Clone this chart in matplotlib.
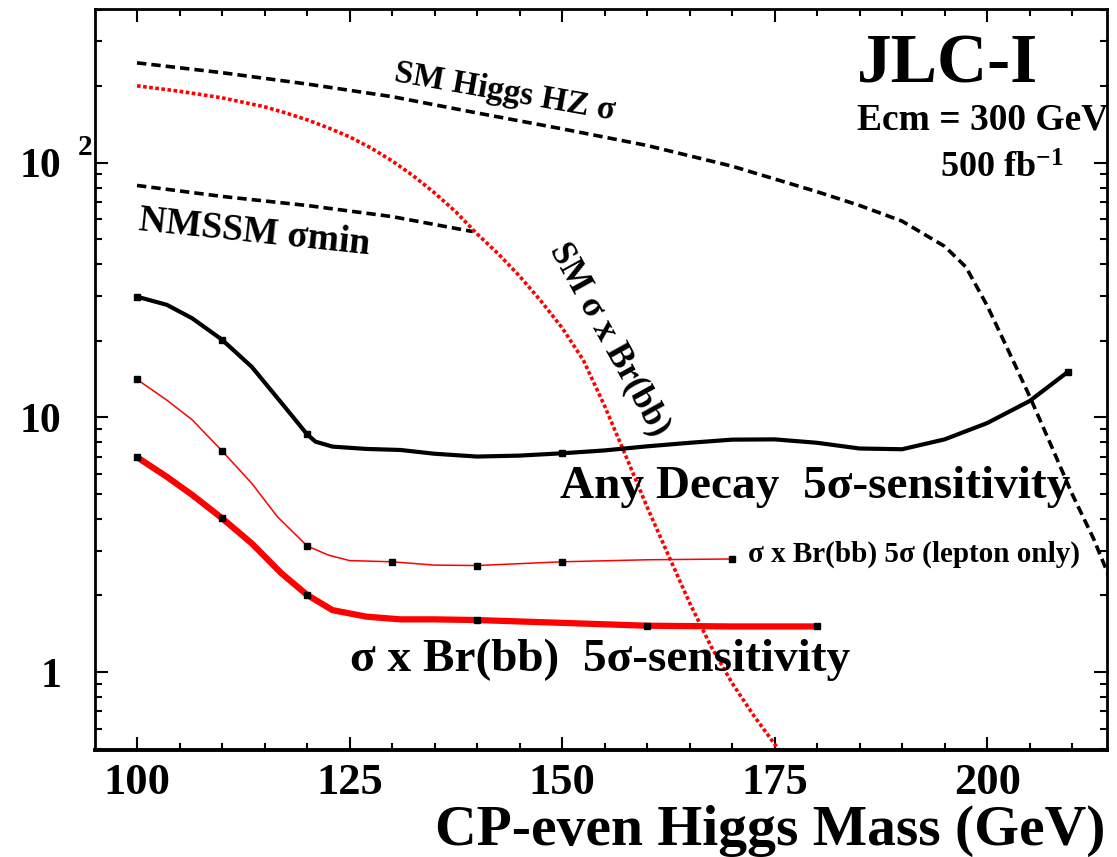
import matplotlib
matplotlib.use("Agg")
import matplotlib.pyplot as plt
from matplotlib.ticker import LogLocator, NullFormatter, FixedLocator, MultipleLocator
import matplotlib.transforms as mtransforms

plt.rcParams['font.family'] = ['Liberation Serif', 'DejaVu Serif']
plt.rcParams['font.weight'] = 'bold'
plt.rcParams['mathtext.fontset'] = 'custom'
plt.rcParams['mathtext.rm'] = 'Liberation Serif:bold'
plt.rcParams['mathtext.bf'] = 'Liberation Serif:bold'
plt.rcParams['mathtext.it'] = 'Liberation Serif:bold:italic'
plt.rcParams['mathtext.default'] = 'rm'

# ---- data ----
hz_mass = [100, 110, 120, 130, 140, 150, 160, 170, 180, 185, 190, 195, 197.5,
           200, 202.5, 205, 207.5, 210, 212.5, 215]
hz_xsec = [247, 226, 204, 182, 157, 136, 117, 97, 77, 68, 59, 47, 39,
           27.5, 18.3, 12.1, 7.8, 5.0, 3.35, 2.1]

nmssm_mass = [100, 110, 120, 130, 139.5]
nmssm_xsec = [81.5, 73.8, 68, 61.5, 53.7]

smbb_mass = [100, 105, 110, 115, 117.5, 120, 122.5, 125, 127.5, 130, 132.5, 135,
             137.5, 140, 142.5, 145, 147.5, 150, 152.5, 155, 157.5, 160, 162.5,
             165, 167.5, 170, 172.5, 175, 177.5]
smbb_xsec = [200.7, 191, 180, 166, 157, 147.6, 137.2, 126.5, 114.5, 101.8, 88.9, 76.2,
             64.2, 52.6, 43.9, 35.9, 28.7, 22.5, 16.8, 11.1, 7.06, 4.45, 2.88,
             1.87, 1.265, 0.905, 0.678, 0.521, 0.412]

any_mass = [100, 103.5, 106.5, 110, 113.5, 117, 120, 121, 123, 127, 131, 135, 140,
            145, 150, 155, 160, 165, 170, 175, 180, 185, 190, 195, 200, 205, 209.5]
any_sens = [29.8, 27.7, 24.5, 20.2, 15.8, 11.4, 8.59, 8.03, 7.68, 7.52, 7.45, 7.2, 7.02,
            7.08, 7.23, 7.42, 7.7, 7.95, 8.18, 8.2, 7.95, 7.55, 7.5, 8.2, 9.5, 11.6, 15.1]
any_marks = [0, 3, 6, 14, 26]

lep_mass = [100, 103.5, 106.5, 110, 113.5, 116.5, 120, 122.5, 125, 130, 135, 140,
            150, 160, 170]
lep_sens = [14.1, 11.7, 9.78, 7.39, 5.51, 4.08, 3.13, 2.88, 2.74, 2.71, 2.63, 2.62,
            2.71, 2.76, 2.78]
lep_marks = [0, 3, 6, 9, 11, 12, 14]

bb_mass = [100, 103.5, 106.5, 110, 113.5, 117, 120, 123, 127, 131, 135, 140, 150,
           160, 170, 180]
bb_sens = [6.98, 5.85, 4.96, 4.02, 3.20, 2.44, 2.01, 1.75, 1.65, 1.61, 1.61, 1.60,
           1.56, 1.52, 1.51, 1.51]
bb_marks = [0, 3, 6, 11, 13, 15]

x_ticks = [100, 125, 150, 175, 200]
y_ticks = [1, 10, 100]
y_ticklabels = ['1', '10', '10']

# ---- figure ----
fig = plt.figure(figsize=(11.17, 8.57), dpi=100)
ax = fig.add_axes([95/1117, 1-750/857, (1107-95)/1117, (750-9)/857])
ax.set_yscale('log')
ax.set_xlim(95.06, 214.1)
ax.set_ylim(0.494, 402)

ax.plot(hz_mass, hz_xsec, color='black', lw=2.6, linestyle=(0, (2.6, 1.4)))
ax.plot(nmssm_mass, nmssm_xsec, color='black', lw=2.6, linestyle=(0, (2.6, 1.4)))
ax.plot(smbb_mass, smbb_xsec, color='red', lw=2.6, linestyle=(0, (1.0, 0.7)))
ax.plot(any_mass, any_sens, color='black', lw=3.0, marker='s', markersize=4,
        markevery=any_marks, solid_capstyle='butt', solid_joinstyle='round')
ax.plot(lep_mass, lep_sens, color='red', lw=1.1, marker='s', markersize=5,
        markerfacecolor='black', markeredgecolor='black', markevery=lep_marks)
ax.plot(bb_mass, bb_sens, color='red', lw=4.5, marker='s', markersize=5,
        markerfacecolor='black', markeredgecolor='black', markevery=bb_marks,
        solid_capstyle='butt', solid_joinstyle='round')

# ---- axes styling ----
for s in ax.spines.values():
    s.set_linewidth(2.0)
ax.spines['bottom'].set_linewidth(2.8)
ax.xaxis.set_major_locator(FixedLocator(x_ticks))
ax.xaxis.set_minor_locator(MultipleLocator(5))
ax.yaxis.set_major_locator(FixedLocator(y_ticks))
ax.set_yticklabels(y_ticklabels)
ax.yaxis.set_minor_locator(LogLocator(base=10, subs=range(2, 10)))
ax.yaxis.set_minor_formatter(NullFormatter())
ax.tick_params(which='both', direction='in', top=True, right=True, width=1.5)
ax.tick_params(which='major', length=9.5)
ax.tick_params(which='minor', length=5)
ax.tick_params(axis='x', which='major', labelsize=32, pad=9)
ax.tick_params(axis='y', which='major', labelsize=30, pad=24)

# superscript of the 10^2 label
ax.text(-0.0168, 107.5, '2', transform=mtransforms.blended_transform_factory(ax.transAxes, ax.transData),
        fontsize=21, fontweight='bold', ha='left', va='baseline')

fig.text(1105/1117, 1-845/857, 'CP-even Higgs Mass (GeV)', fontsize=41.5,
         fontweight='bold', ha='right', va='baseline')

# ---- annotations ----
ax.text(184.7, 206, 'JLC-I', fontsize=50, fontweight='bold', ha='left', va='baseline')
ax.text(184.7, 134.8, 'Ecm = 300 GeV', fontsize=27, fontweight='bold', ha='left', va='baseline')
ax.text(194.5, 87.3, '500 fb$^{-1}$', fontsize=26, fontweight='bold', ha='left', va='baseline')
ax.text(143.3, 190, 'SM Higgs HZ σ', fontsize=24, fontweight='bold', rotation=-10,
        ha='center', va='center', rotation_mode='anchor')
ax.text(113.8, 53.1, 'NMSSM σmin', fontsize=27, fontweight='bold', rotation=-6,
        ha='center', va='center', rotation_mode='anchor')
ax.text(155.6, 20.2, 'SM σ x Br(bb)', fontsize=25, fontweight='bold', rotation=-61,
        ha='center', va='center', rotation_mode='anchor')
ax.text(149.8, 4.83, 'Any Decay  5σ-sensitivity', fontsize=34, fontweight='bold',
        ha='left', va='baseline')
ax.text(171.9, 2.71, 'σ x Br(bb) 5σ (lepton only)', fontsize=21, fontweight='bold',
        ha='left', va='baseline')
ax.text(125.06, 1.01, 'σ x Br(bb)  5σ-sensitivity', fontsize=34, fontweight='bold',
        ha='left', va='baseline')

fig.savefig('out.png', dpi=100)
